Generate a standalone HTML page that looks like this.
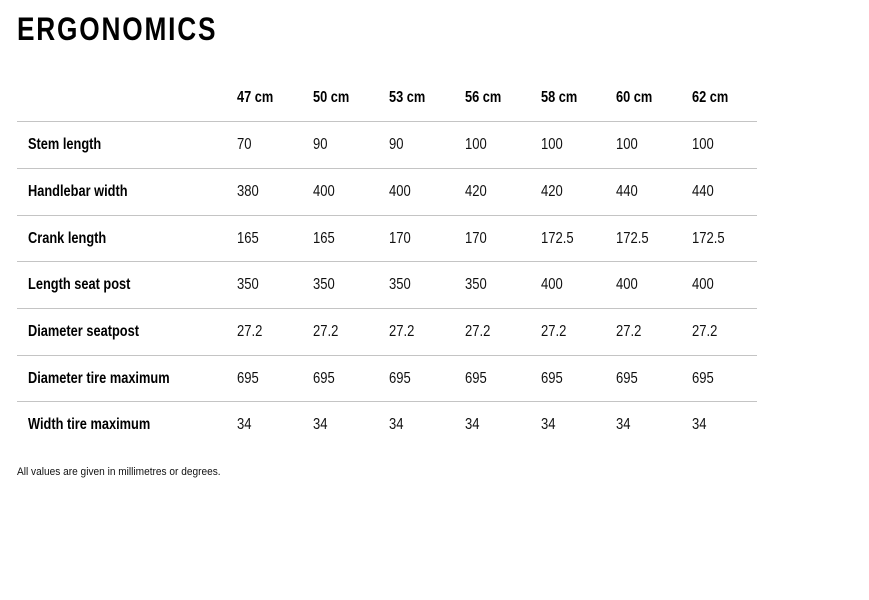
<!DOCTYPE html>
<html>
<head>
<meta charset="utf-8">
<style>
  html, body { margin:0; padding:0; background:#fff; }
  body { width:869px; height:600px; position:relative; overflow:hidden;
         font-family:"Liberation Sans",sans-serif; color:#111; }
  .t { position:absolute; white-space:nowrap; transform-origin:0 0; transform:scaleX(0.80); }
  .title { left:17px; top:13px; font-size:32px; line-height:32px; font-weight:bold; letter-spacing:2.2px; color:#000; transform:scaleX(0.82); }
  .h { font-size:16px; line-height:20px; font-weight:bold; color:#000; }
  .lab { font-size:16px; line-height:20px; font-weight:bold; color:#000; left:28px; }
  .v { font-size:16px; line-height:20px; color:#111; transform:scaleX(0.815); }
  .ln { position:absolute; left:17px; width:740px; height:1px; background:#c4c4c4; }
  .foot { left:17px; top:465px; font-size:11px; line-height:14px; color:#111; transform:scaleX(0.92); }
</style>
</head>
<body>
<div class="t title">ERGONOMICS</div>

<div class="t h" style="left:237px;top:88px">47 cm</div>
<div class="t h" style="left:313px;top:88px">50 cm</div>
<div class="t h" style="left:389px;top:88px">53 cm</div>
<div class="t h" style="left:465px;top:88px">56 cm</div>
<div class="t h" style="left:541px;top:88px">58 cm</div>
<div class="t h" style="left:616px;top:88px">60 cm</div>
<div class="t h" style="left:692px;top:88px">62 cm</div>

<div class="ln" style="top:121px"></div>
<div class="ln" style="top:168px"></div>
<div class="ln" style="top:215px"></div>
<div class="ln" style="top:261px"></div>
<div class="ln" style="top:308px"></div>
<div class="ln" style="top:355px"></div>
<div class="ln" style="top:401px"></div>

<!-- Row 1 -->
<div class="t lab" style="top:135px">Stem length</div>
<div class="t v" style="left:237px;top:135px">70</div>
<div class="t v" style="left:313px;top:135px">90</div>
<div class="t v" style="left:389px;top:135px">90</div>
<div class="t v" style="left:465px;top:135px">100</div>
<div class="t v" style="left:541px;top:135px">100</div>
<div class="t v" style="left:616px;top:135px">100</div>
<div class="t v" style="left:692px;top:135px">100</div>

<!-- Row 2 -->
<div class="t lab" style="top:182px">Handlebar width</div>
<div class="t v" style="left:237px;top:182px">380</div>
<div class="t v" style="left:313px;top:182px">400</div>
<div class="t v" style="left:389px;top:182px">400</div>
<div class="t v" style="left:465px;top:182px">420</div>
<div class="t v" style="left:541px;top:182px">420</div>
<div class="t v" style="left:616px;top:182px">440</div>
<div class="t v" style="left:692px;top:182px">440</div>

<!-- Row 3 -->
<div class="t lab" style="top:229px">Crank length</div>
<div class="t v" style="left:237px;top:229px">165</div>
<div class="t v" style="left:313px;top:229px">165</div>
<div class="t v" style="left:389px;top:229px">170</div>
<div class="t v" style="left:465px;top:229px">170</div>
<div class="t v" style="left:541px;top:229px">172.5</div>
<div class="t v" style="left:616px;top:229px">172.5</div>
<div class="t v" style="left:692px;top:229px">172.5</div>

<!-- Row 4 -->
<div class="t lab" style="top:275px">Length seat post</div>
<div class="t v" style="left:237px;top:275px">350</div>
<div class="t v" style="left:313px;top:275px">350</div>
<div class="t v" style="left:389px;top:275px">350</div>
<div class="t v" style="left:465px;top:275px">350</div>
<div class="t v" style="left:541px;top:275px">400</div>
<div class="t v" style="left:616px;top:275px">400</div>
<div class="t v" style="left:692px;top:275px">400</div>

<!-- Row 5 -->
<div class="t lab" style="top:322px">Diameter seatpost</div>
<div class="t v" style="left:237px;top:322px">27.2</div>
<div class="t v" style="left:313px;top:322px">27.2</div>
<div class="t v" style="left:389px;top:322px">27.2</div>
<div class="t v" style="left:465px;top:322px">27.2</div>
<div class="t v" style="left:541px;top:322px">27.2</div>
<div class="t v" style="left:616px;top:322px">27.2</div>
<div class="t v" style="left:692px;top:322px">27.2</div>

<!-- Row 6 -->
<div class="t lab" style="top:369px">Diameter tire maximum</div>
<div class="t v" style="left:237px;top:369px">695</div>
<div class="t v" style="left:313px;top:369px">695</div>
<div class="t v" style="left:389px;top:369px">695</div>
<div class="t v" style="left:465px;top:369px">695</div>
<div class="t v" style="left:541px;top:369px">695</div>
<div class="t v" style="left:616px;top:369px">695</div>
<div class="t v" style="left:692px;top:369px">695</div>

<!-- Row 7 -->
<div class="t lab" style="top:415px">Width tire maximum</div>
<div class="t v" style="left:237px;top:415px">34</div>
<div class="t v" style="left:313px;top:415px">34</div>
<div class="t v" style="left:389px;top:415px">34</div>
<div class="t v" style="left:465px;top:415px">34</div>
<div class="t v" style="left:541px;top:415px">34</div>
<div class="t v" style="left:616px;top:415px">34</div>
<div class="t v" style="left:692px;top:415px">34</div>

<div class="t foot">All values are given in millimetres or degrees.</div>
</body>
</html>
